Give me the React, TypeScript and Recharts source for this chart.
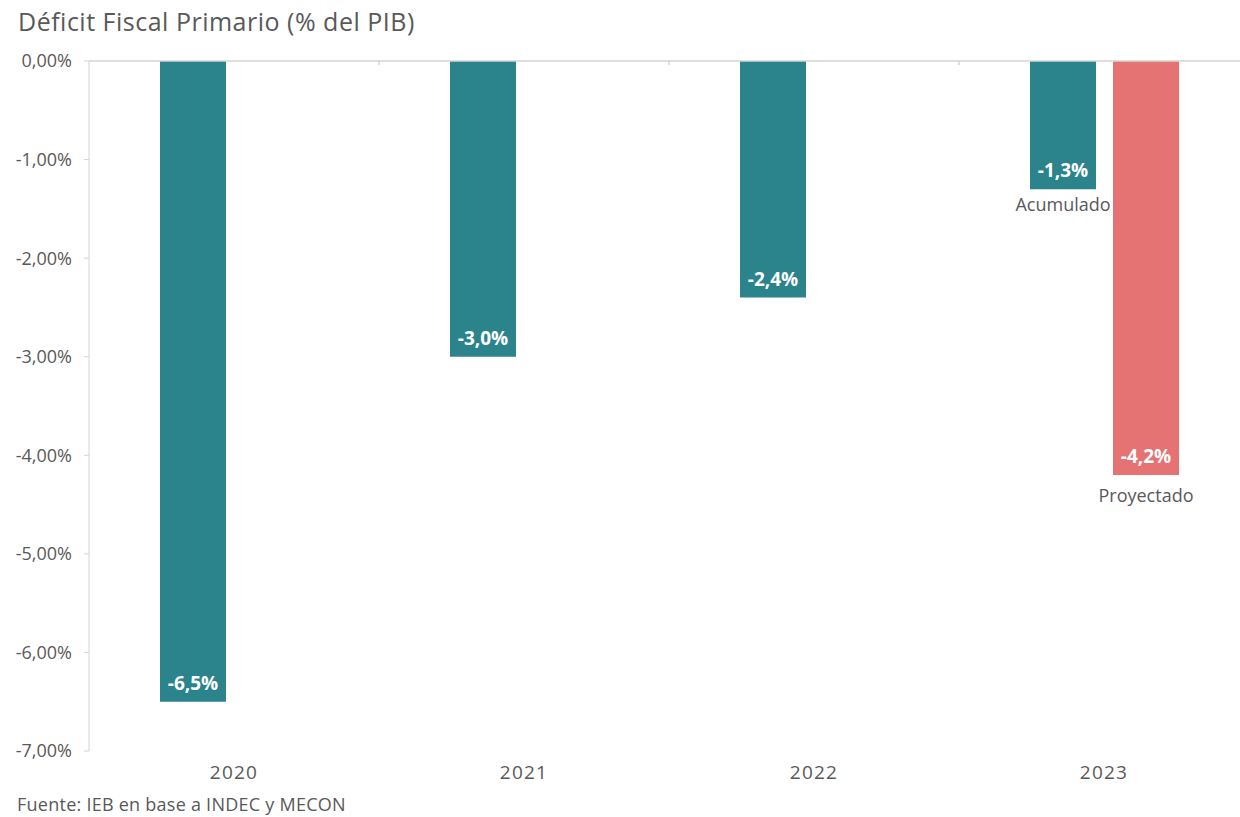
import { BarChart, Bar, XAxis, YAxis, LabelList, ReferenceLine } from "recharts";

const years = ["2020", "2021", "2022", "2023"];
const acumulado = [-6.5, -3.0, -2.4, -1.3];
const proyectado = [null, null, null, -4.2];
const yTicks = [0, -1, -2, -3, -4, -5, -6, -7];
const notaAcumulado = ["", "", "", "Acumulado"];
const notaProyectado = ["", "", "", "Proyectado"];

const data = years.map((year, i) => ({
  year,
  acumulado: acumulado[i],
  proyectado: proyectado[i],
  notaA: notaAcumulado[i],
  notaP: notaProyectado[i],
}));

const FONT = "'Open Sans', sans-serif";
const GRAY = "#595959";
const LINE = "#d4d4d4";
const TEAL = "#2b838c";
const RED = "#e57373";
const TOP = 61;

const fmtY = (v: number) => v.toFixed(2).replace(".", ",") + "%";
const fmtBar = (v: number) => v.toFixed(1).replace(".", ",") + "%";

const barBottom = (p: any) => Math.max(p.y, p.y + p.height);

// white value label inside the end of the bar
const ValueLabel = (props: any) => {
  const { x, width, value } = props;
  if (value == null) return null;
  return (
    <text
      x={x + width / 2}
      y={barBottom(props) - 12}
      textAnchor="middle"
      fill="#fff"
      fontWeight={700}
      fontSize={19}
      fontFamily={FONT}
    >
      {fmtBar(value)}
    </text>
  );
};

// grey note under the bar
const NoteLabel = (props: any) => {
  const { x, width, value, gap } = props;
  if (!value) return null;
  return (
    <text
      x={x + width / 2}
      y={barBottom(props) + gap}
      textAnchor="middle"
      fill={GRAY}
      fontSize={18}
      fontFamily={FONT}
    >
      {value}
    </text>
  );
};

// category label at the bottom + small divider tick on the zero line
const YearTick = (props: any) => {
  const { x, y, payload, index } = props;
  const half = payload && payload.offset ? payload.offset : 145;
  return (
    <g>
      <text
        x={x}
        y={y}
        dy="0.71em"
        textAnchor="middle"
        fill={GRAY}
        fontSize={19}
        letterSpacing={1.2}
        fontFamily={FONT}
      >
        {payload.value}
      </text>
      {index < years.length - 1 ? (
        <line x1={x + half} x2={x + half} y1={TOP} y2={TOP + 4} stroke={LINE} strokeWidth={1.5} />
      ) : null}
    </g>
  );
};

export default function App() {
  return (
    <div
      style={{
        position: "fixed",
        left: 0,
        top: 0,
        width: 1240,
        height: 817,
        overflow: "hidden",
        background: "#fff",
        fontFamily: FONT,
      }}
    >
      <div
        style={{
          position: "absolute",
          left: 18,
          top: 4,
          fontSize: 25,
          letterSpacing: 0.5,
          lineHeight: "34px",
          color: GRAY,
          whiteSpace: "nowrap",
        }}
      >
        Déficit Fiscal Primario (% del PIB)
      </div>
      <div style={{ position: "absolute", left: 0, top: 0 }}>
        <BarChart
          width={1249}
          height={790}
          data={data}
          margin={{ top: TOP, right: 0, left: 0, bottom: 9 }}
          barCategoryGap={71}
          barGap={17}
        >
          <XAxis
            dataKey="year"
            axisLine={false}
            tickLine={false}
            tickSize={0}
            tickMargin={15}
            tick={<YearTick />}
          />
          <YAxis
            width={89}
            domain={[-7, 0]}
            ticks={yTicks}
            tickFormatter={fmtY}
            tickSize={5}
            tickMargin={12}
            axisLine={{ stroke: LINE }}
            tickLine={{ stroke: LINE }}
            tick={{ fill: GRAY, fontSize: 18, fontFamily: FONT }}
          />
          <ReferenceLine y={0} stroke={LINE} strokeWidth={1.5} />
          <Bar dataKey="acumulado" fill={TEAL} isAnimationActive={false}>
            <LabelList dataKey="acumulado" content={<ValueLabel />} />
            <LabelList dataKey="notaA" content={<NoteLabel gap={22} />} />
          </Bar>
          <Bar dataKey="proyectado" fill={RED} isAnimationActive={false}>
            <LabelList dataKey="proyectado" content={<ValueLabel />} />
            <LabelList dataKey="notaP" content={<NoteLabel gap={27} />} />
          </Bar>
        </BarChart>
      </div>
      <div
        style={{
          position: "absolute",
          zIndex: 5,
          left: 17,
          top: 792,
          fontSize: 18,
          letterSpacing: 0.25,
          lineHeight: "24px",
          color: GRAY,
          whiteSpace: "nowrap",
        }}
      >
        Fuente: IEB en base a INDEC y MECON
      </div>
    </div>
  );
}
